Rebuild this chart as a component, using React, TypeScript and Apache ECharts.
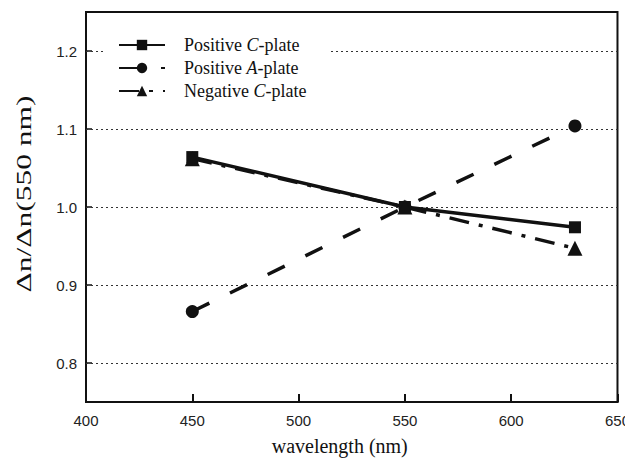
import React, { useEffect, useRef } from "react";
import * as echarts from "echarts";

const wavelengths = [450, 550, 630];
const positiveC = [1.064, 1.0, 0.974];
const positiveA = [0.866, 1.0, 1.104];
const negativeC = [1.062, 1.0, 0.947];
const yTicks = [0.8, 0.9, 1.0, 1.1, 1.2];
const seriesNames = ["Positive C-plate", "Positive A-plate", "Negative C-plate"];
const legendRich: Record<string, string> = {
  "Positive C-plate": "Positive {i|C}-plate",
  "Positive A-plate": "Positive {i|A}-plate",
  "Negative C-plate": "Negative {i|C}-plate",
};
const yTitle = "Δn/Δn(550 nm)";
const xTitle = "wavelength (nm)";

const pair = (vals: number[]) => wavelengths.map((w, i) => [w, vals[i]]);

export default function App() {
  const ref = useRef<HTMLDivElement>(null);
  useEffect(() => {
    if (!ref.current) return;
    const chart = echarts.init(ref.current, undefined, { renderer: "svg" });
    const black = "#111";
    chart.setOption({
      animation: false,
      backgroundColor: "#fff",
      grid: {
        left: 86,
        right: 15,
        top: 12,
        bottom: 64,
        show: true,
        borderColor: black,
        borderWidth: 2,
        backgroundColor: "transparent",
      },
      graphic: [
        {
          type: "text",
          x: 24,
          y: 194,
          rotation: Math.PI / 2,
          scaleX: 1.5,
          style: {
            text: yTitle,
            fontFamily: "Liberation Serif",
            fontSize: 21,
            fill: black,
            textAlign: "center",
            textVerticalAlign: "middle",
          },
        },
      ],
      legend: {
        data: seriesNames,
        left: 103,
        top: 28,
        orient: "vertical",
        backgroundColor: "#fff",
        padding: [8, 24, 8, 15],
        itemWidth: 46,
        itemHeight: 13,
        itemGap: 5,
        formatter: (name: string) => legendRich[name] || name,
        textStyle: {
          fontFamily: "Liberation Serif",
          fontSize: 18,
          lineHeight: 18,
          color: black,
          padding: [0, 0, 0, 14],
          rich: {
            i: {
              fontFamily: "Liberation Serif",
              fontSize: 18,
              fontStyle: "italic",
              color: black,
            },
          },
        },
      },
      xAxis: {
        type: "value",
        min: 400,
        max: 650,
        interval: 50,
        name: xTitle,
        nameLocation: "middle",
        nameGap: 34,
        nameTextStyle: {
          fontFamily: "Liberation Serif",
          fontSize: 20,
          color: black,
          padding: [0, 24, 0, 0],
        },
        axisLine: { show: true, lineStyle: { color: black, width: 2 } },
        axisTick: { show: true, inside: true, length: 8, lineStyle: { color: black, width: 2 } },
        axisLabel: { fontFamily: "Liberation Sans", fontSize: 15, color: "#222", margin: 11 },
        splitLine: { show: false },
      },
      yAxis: {
        type: "value",
        min: 0.75,
        max: 1.25,
        axisLine: { show: true, lineStyle: { color: black, width: 2 } },
        axisTick: {
          show: true,
          inside: true,
          length: 6,
          customValues: yTicks,
          lineStyle: { color: black, width: 1.5 },
        },
        axisLabel: {
          fontFamily: "Liberation Sans",
          fontSize: 15,
          color: "#222",
          margin: 9,
          customValues: yTicks,
          formatter: (v: number) => v.toFixed(1),
        },
        splitLine: { show: false },
      },
      series: [
        {
          name: seriesNames[0],
          type: "line",
          data: pair(positiveC),
          symbol: "rect",
          symbolSize: 12,
          itemStyle: { color: black },
          lineStyle: { color: black, width: 3.5, type: "solid" },
          z: 3,
          markLine: {
            silent: true,
            symbol: ["none", "none"],
            label: { show: false },
            z: 1,
            lineStyle: { color: "#333", width: 1, type: [2, 3] },
            data: yTicks.map((t) => ({ yAxis: t })),
          },
        },
        {
          name: seriesNames[1],
          type: "line",
          data: pair(positiveA),
          symbol: "circle",
          symbolSize: 13,
          itemStyle: { color: black },
          lineStyle: { color: black, width: 3.5, type: [19, 23] },
          z: 3,
        },
        {
          name: seriesNames[2],
          type: "line",
          data: pair(negativeC),
          symbol: "triangle",
          symbolSize: 15,
          itemStyle: { color: black },
          lineStyle: { color: black, width: 3.5, type: [20, 10, 4, 10] },
          z: 3,
        },
      ],
    });
    return () => chart.dispose();
  }, []);
  return <div ref={ref} style={{ width: 633, height: 466, margin: -8 }} />;
}
